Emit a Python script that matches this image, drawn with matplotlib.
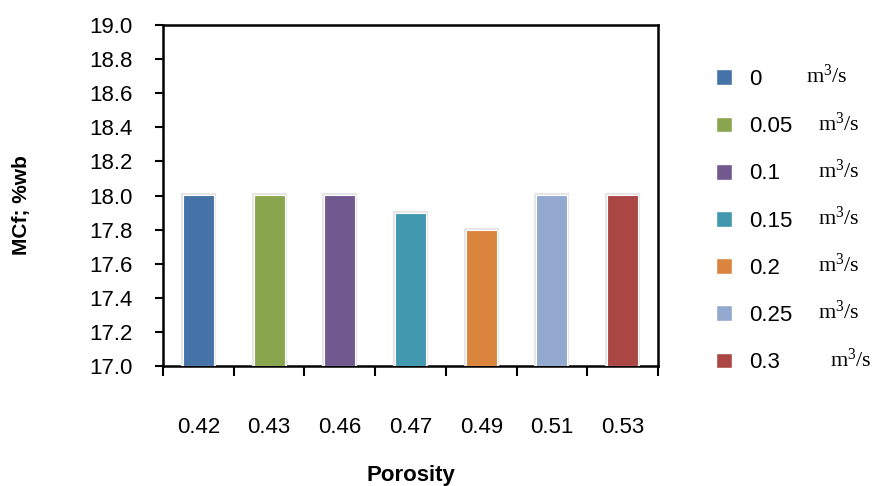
import matplotlib
matplotlib.use("Agg")
import matplotlib.pyplot as plt
import matplotlib.patheffects as pe
from matplotlib.patches import Patch
import numpy as np

porosity = ["0.42", "0.43", "0.46", "0.47", "0.49", "0.51", "0.53"]
air_flow = ["0", "0.05", "0.1", "0.15", "0.2", "0.25", "0.3"]
mcf = [18.0, 18.0, 18.0, 17.9, 17.8, 18.0, 18.0]
colors = ["#4572A7", "#89A54E", "#71588F", "#4198AF", "#DB843D", "#93A9CF", "#AA4643"]

plt.rcParams["font.family"] = ["Liberation Sans", "DejaVu Sans"]
FS = 16

fig = plt.figure(figsize=(8.77, 4.86), dpi=100)
ax = fig.add_axes([163 / 877, 1 - 366 / 486, 495 / 877, 341 / 486])

x = np.arange(len(porosity))
bars = ax.bar(x, np.array(mcf) - 17.0, bottom=17.0, width=0.44, color=colors,
              edgecolor="white", linewidth=0.8, zorder=3)
for b in bars:
    b.set_path_effects([pe.Stroke(linewidth=3, foreground="#e6e6e6"), pe.Normal()])

ax.set_xlim(-0.5, len(porosity) - 0.5)
ax.set_ylim(17.0, 19.0)
yt = np.arange(17.0, 19.01, 0.2)
ax.set_yticks(yt)
ax.set_yticklabels([f"{v:.1f}" for v in yt])

# category labels sit well below the axis, boundary ticks on the spine
ax.set_xticks(x)
ax.set_xticklabels(porosity)
ax.set_xticks(np.arange(-0.5, len(porosity)), minor=True)
ax.tick_params(axis="x", which="major", length=0, pad=37, labelsize=FS)
ax.tick_params(axis="x", which="minor", length=7, width=1.5, direction="out")
ax.tick_params(axis="y", length=6, width=1.5, direction="out", pad=16, labelsize=FS)

for s in ax.spines.values():
    s.set_linewidth(1.8)

ax.set_xlabel("Porosity", fontsize=FS, fontweight="bold", va="center")
ax.xaxis.set_label_coords(0.5, (366 - 475) / 341)
fig.text(22 / 877, 1 - 205 / 486, "MCf; %wb", rotation=90, fontsize=15,
         fontweight="bold", ha="center", va="center")

handles = [Patch(facecolor=c, edgecolor="white") for c in colors]
leg = fig.legend(handles, air_flow, loc="upper left", bbox_to_anchor=(716 / 877, 1 - 69 / 486),
                 frameon=False, fontsize=FS, labelspacing=1.18, handlelength=0.72,
                 handleheight=0.72, handletextpad=0.75, borderpad=0, borderaxespad=0)

fig.canvas.draw()
unit_x = [806, 818, 818, 818, 818, 818, 830]
for t, ux in zip(leg.get_texts(), unit_x):
    bb = t.get_window_extent()
    yc = (bb.y0 + bb.y1) / 2
    fig.text(ux / 877, yc / fig.bbox.height + 0.006, r"$\mathregular{m^3/s}$",
             fontsize=FS, family="Liberation Serif", va="center", ha="left")

fig.savefig("out.png", dpi=100)
